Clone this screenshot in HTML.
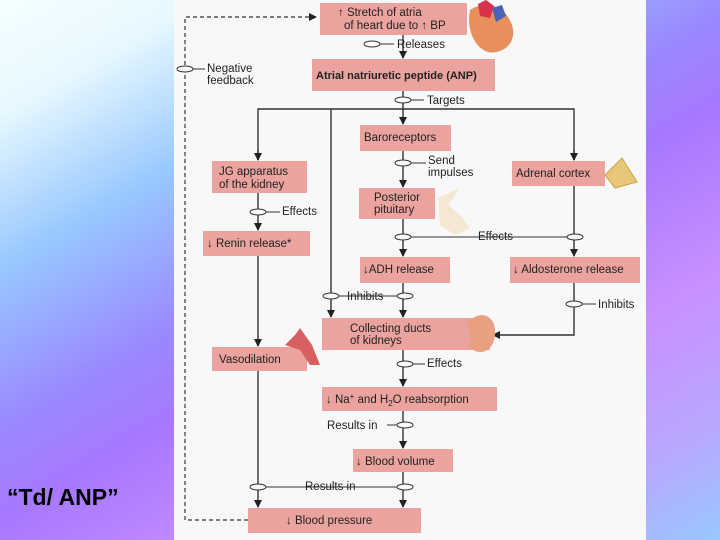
<!DOCTYPE html>
<html><head><meta charset="utf-8"><style>
html,body{margin:0;padding:0}
body{width:720px;height:540px;overflow:hidden;position:relative;font-family:"Liberation Sans",sans-serif;
background:linear-gradient(150deg,#f4ffff 0%,#e8f8ff 12%,#98c8ff 28%,#9a88ff 45%,#a878ff 55%,#c890ff 72%,#b8a8ff 88%,#98c8ff 100%);}
#panel{position:absolute;left:174px;top:0;width:472px;height:540px;background:#f8f8f8}
#t{position:absolute;left:7px;top:484px;font-size:23px;font-weight:bold;color:#000;letter-spacing:0px}
svg{position:absolute;left:0;top:0}
svg text{font-family:"Liberation Sans",sans-serif;font-size:11.5px;fill:#222}
</style></head><body>
<div id="panel"></div>
<div id="t">“Td/ ANP”</div>
<svg width="720" height="540" viewBox="0 0 720 540">
<defs><marker id="a" markerWidth="8" markerHeight="8" refX="7" refY="4" orient="auto" markerUnits="userSpaceOnUse"><path d="M0,0L8,4L0,8z" fill="#222"/></marker></defs>
<g stroke="#333" stroke-width="1.4" fill="none">
<!-- dashed feedback -->
<path d="M248,520H185V17H316" stroke-dasharray="4,3" stroke-width="1.2" marker-end="url(#a)"/>
<!-- main column -->
<line x1="403" y1="35" x2="403" y2="58" marker-end="url(#a)"/>
<line x1="403" y1="91" x2="403" y2="124" marker-end="url(#a)"/>
<path d="M258,160V109H574V160"/>
<line x1="258" y1="150" x2="258" y2="160" marker-end="url(#a)"/>
<line x1="574" y1="150" x2="574" y2="160" marker-end="url(#a)"/>
<line x1="331" y1="109" x2="331" y2="317" marker-end="url(#a)"/>
<line x1="403" y1="151" x2="403" y2="187" marker-end="url(#a)"/>
<line x1="403" y1="219" x2="403" y2="256" marker-end="url(#a)"/>
<line x1="574" y1="186" x2="574" y2="256" marker-end="url(#a)"/>
<line x1="403" y1="237" x2="574" y2="237" stroke-width="1"/>
<line x1="403" y1="283" x2="403" y2="317" marker-end="url(#a)"/>
<path d="M574,283V335H493" marker-end="url(#a)"/>
<line x1="331" y1="296" x2="405" y2="296" stroke-width="1"/>
<line x1="403" y1="350" x2="403" y2="386" marker-end="url(#a)"/>
<line x1="403" y1="411" x2="403" y2="448" marker-end="url(#a)"/>
<line x1="403" y1="472" x2="403" y2="507" marker-end="url(#a)"/>
<line x1="258" y1="193" x2="258" y2="230" marker-end="url(#a)"/>
<line x1="258" y1="256" x2="258" y2="346" marker-end="url(#a)"/>
<line x1="258" y1="371" x2="258" y2="507" marker-end="url(#a)"/>
<line x1="258" y1="487" x2="403" y2="487" stroke-width="1"/>
<line x1="185" y1="69" x2="205" y2="69" stroke-width="1"/>
<line x1="380" y1="44" x2="394" y2="44" stroke-width="1"/>
<line x1="410" y1="100" x2="424" y2="100" stroke-width="1"/>
<line x1="410" y1="163" x2="426" y2="163" stroke-width="1"/>
<line x1="265" y1="212" x2="280" y2="212" stroke-width="1"/>
<line x1="582" y1="304" x2="596" y2="304" stroke-width="1"/>
<line x1="410" y1="364" x2="425" y2="364" stroke-width="1"/>
<line x1="387" y1="425" x2="403" y2="425" stroke-width="1"/>
</g>
<g fill="#f8f8f8" stroke="#333" stroke-width="1">
<ellipse cx="185" cy="69" rx="8" ry="3"/><ellipse cx="372" cy="44" rx="8" ry="3"/>
<ellipse cx="403" cy="100" rx="8" ry="3"/><ellipse cx="403" cy="163" rx="8" ry="3"/>
<ellipse cx="258" cy="212" rx="8" ry="3"/><ellipse cx="403" cy="237" rx="8" ry="3"/>
<ellipse cx="575" cy="237" rx="8" ry="3"/><ellipse cx="331" cy="296" rx="8" ry="3"/>
<ellipse cx="405" cy="296" rx="8" ry="3"/><ellipse cx="574" cy="304" rx="8" ry="3"/>
<ellipse cx="405" cy="364" rx="8" ry="3"/><ellipse cx="405" cy="425" rx="8" ry="3"/>
<ellipse cx="258" cy="487" rx="8" ry="3"/><ellipse cx="405" cy="487" rx="8" ry="3"/>
</g>
<rect x="460" y="478" width="0" height="0"/>
<!-- boxes -->
<g fill="#eaa39e">
<rect x="320" y="3" width="147" height="32"/>
<rect x="312" y="59" width="183" height="32"/>
<rect x="360" y="125" width="91" height="26"/>
<rect x="212" y="161" width="95" height="32"/>
<rect x="512" y="161" width="93" height="25"/>
<rect x="359" y="188" width="76" height="31"/>
<rect x="203" y="231" width="107" height="25"/>
<rect x="360" y="257" width="90" height="26"/>
<rect x="510" y="257" width="130" height="26"/>
<rect x="322" y="318" width="168" height="32"/>
<rect x="212" y="347" width="95" height="24"/>
<rect x="322" y="387" width="175" height="24"/>
<rect x="353" y="449" width="100" height="23"/>
<rect x="248" y="508" width="173" height="25"/>
</g>
<!-- icons -->
<path d="M470,10 C485,0 505,5 512,25 C518,45 500,55 488,52 C475,48 466,30 470,10z" fill="#e8905c"/>
<path d="M478,4 L486,0 L494,6 L490,18 L480,16z" fill="#d8324a"/>
<path d="M492,8 L502,5 L506,16 L496,22z" fill="#4a62b8"/>
<path d="M605,175 L622,158 L637,182 L615,188z" fill="#e8c878" stroke="#c8a050"/>
<path d="M438,198 L460,188 L448,205 L460,215 L470,228 L455,235 L440,225z" fill="#f4e8d4"/>
<path d="M470,320 C485,308 497,320 495,335 C493,355 475,356 468,345 C476,336 462,328 470,320z" fill="#e8a080"/>
<path d="M295,335 L300,328 L312,345 L320,365 L310,365 L300,350 L285,345z" fill="#d86060"/>
<!-- text -->
<text x="338" y="16">↑ Stretch of atria</text>
<text x="344" y="29">of heart due to ↑ BP</text>
<text x="397" y="48">Releases</text>
<text x="316" y="79" font-weight="bold" style="font-size:11px">Atrial natriuretic peptide (ANP)</text>
<text x="427" y="104">Targets</text>
<text x="364" y="141">Baroreceptors</text>
<text x="219" y="175">JG apparatus</text>
<text x="219" y="188">of the kidney</text>
<text x="428" y="164">Send</text>
<text x="428" y="176">impulses</text>
<text x="516" y="177">Adrenal cortex</text>
<text x="374" y="201">Posterior</text>
<text x="374" y="213">pituitary</text>
<text x="282" y="215">Effects</text>
<text x="207" y="247">↓ Renin release*</text>
<text x="478" y="240">Effects</text>
<text x="363" y="273">↓ADH release</text>
<text x="513" y="273">↓ Aldosterone release</text>
<text x="347" y="300">Inhibits</text>
<text x="598" y="308">Inhibits</text>
<text x="350" y="332">Collecting ducts</text>
<text x="350" y="344">of kidneys</text>
<text x="219" y="363">Vasodilation</text>
<text x="427" y="367">Effects</text>
<text x="326" y="403">↓ Na<tspan dy="-4" style="font-size:8px">+</tspan><tspan dy="4"> and H</tspan><tspan dy="3" style="font-size:8px">2</tspan><tspan dy="-3">O reabsorption</tspan></text>
<text x="327" y="429">Results in</text>
<text x="356" y="465">↓ Blood volume</text>
<text x="305" y="490">Results in</text>
<text x="286" y="524">↓ Blood pressure</text>
<text x="207" y="72">Negative</text>
<text x="207" y="84">feedback</text>
</svg>
</body></html>
